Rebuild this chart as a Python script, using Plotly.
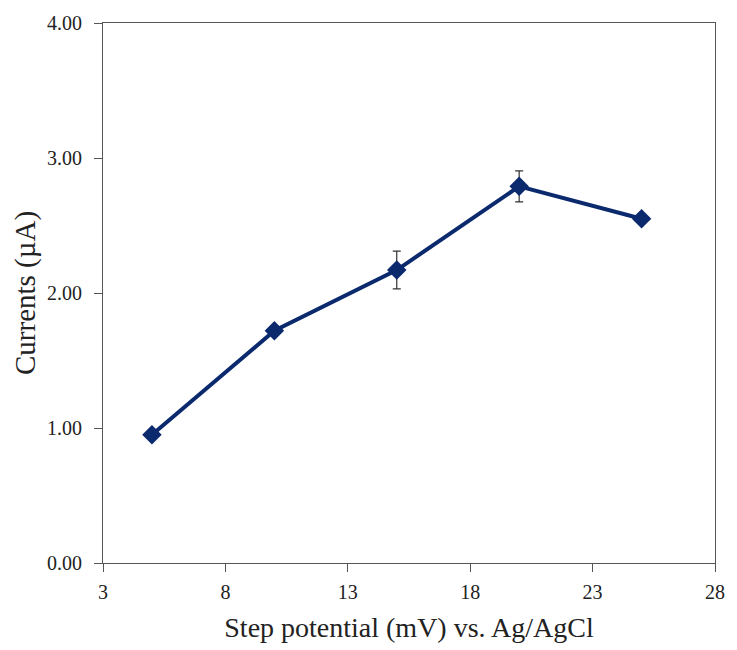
import plotly.graph_objects as go

step_mv = [5, 10, 15, 20, 25]
current_ua = [0.95, 1.72, 2.17, 2.79, 2.55]
error_ua = [0.03, 0.03, 0.14, 0.115, 0.035]
x_ticks = [3, 8, 13, 18, 23, 28]
y_ticks = [0, 1, 2, 3, 4]
y_tick_labels = ["0.00", "1.00", "2.00", "3.00", "4.00"]

navy = "#0b2a6e"
font_family = "Liberation Serif, Times New Roman, serif"

fig = go.Figure()
fig.add_trace(go.Scatter(
    x=step_mv, y=current_ua,
    mode="lines+markers",
    line=dict(color=navy, width=4),
    marker=dict(symbol="diamond", size=15, color=navy),
    error_y=dict(type="data", array=error_ua, visible=True,
                 color="#333333", thickness=1.2, width=4),
    showlegend=False,
))

fig.update_layout(
    width=737, height=650,
    margin=dict(l=103, r=15, t=19, b=85),
    paper_bgcolor="white", plot_bgcolor="white",
    font=dict(family=font_family, color="#222222"),
    xaxis=dict(
        range=[3, 28], tickvals=x_ticks, ticktext=[str(v) for v in x_ticks],
        showgrid=False, zeroline=False,
        showline=True, linecolor="#555555", linewidth=1.2, mirror=True,
        ticks="outside", ticklen=8, tickcolor="#555555",
        ticklabelstandoff=3,
        tickfont=dict(size=20, family=font_family),
        title=dict(text="Step potential (mV) vs. Ag/AgCl",
                   font=dict(size=28, family=font_family), standoff=15),
    ),
    yaxis=dict(
        range=[0, 4], tickvals=y_ticks, ticktext=y_tick_labels,
        showgrid=False, zeroline=False,
        showline=True, linecolor="#555555", linewidth=1.2, mirror=True,
        ticks="outside", ticklen=8, tickcolor="#555555",
        ticklabelstandoff=8,
        tickfont=dict(size=20, family=font_family),
        title=dict(text="Currents (µA)",
                   font=dict(size=29, family=font_family), standoff=2),
    ),
)

fig.write_html("out.html")
